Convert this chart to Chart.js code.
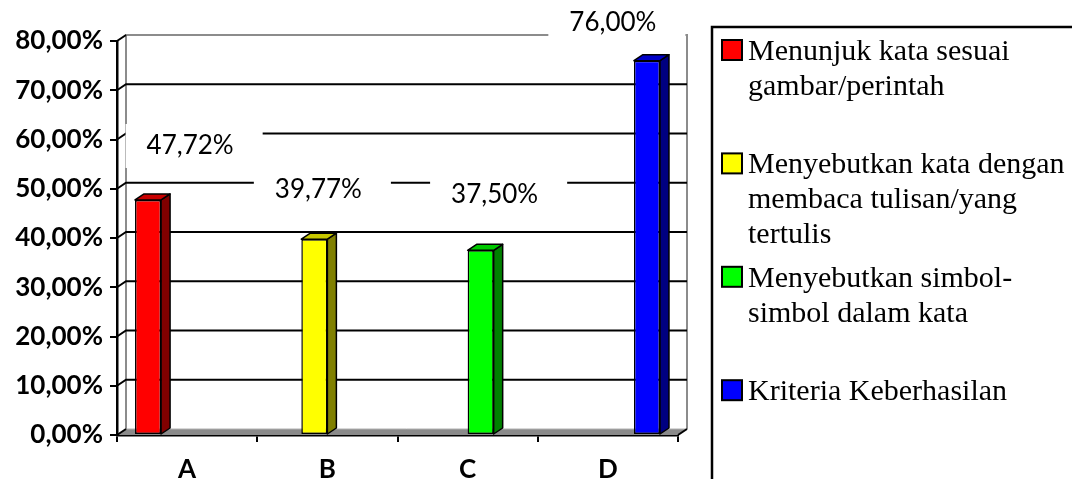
<!DOCTYPE html>
<html>
<head>
<meta charset="utf-8">
<script src="https://cdn.jsdelivr.net/npm/chart.js@4.4.1/dist/chart.umd.min.js"></script>
<style>
  html, body { margin: 0; padding: 0; background: #fff; }
  #wrap { width: 1072px; height: 479px; position: relative; }
</style>
</head>
<body>
<div id="wrap"><canvas id="chart"></canvas></div>
<script>
// data
const categories = ['A', 'B', 'C', 'D'];
const seriesNames = [
  'Menunjuk kata sesuai\ngambar/perintah',
  'Menyebutkan kata dengan\nmembaca tulisan/yang\ntertulis',
  'Menyebutkan simbol-\nsimbol dalam kata',
  'Kriteria Keberhasilan'
];
const percentages = [47.72, 39.77, 37.50, 76.00];
const yTicks = [0, 10, 20, 30, 40, 50, 60, 70, 80];

// styles
const frontColors = ['#FF0000', '#FFFF00', '#00FF00', '#0000FF'];
const sideColors = ['#800000', '#808000', '#008000', '#000080'];
const topColors = ['#C80000', '#C8C800', '#00C800', '#0000C8'];
const DX = 9, DY = -6; // depth of the fake 3D
// where Excel put each value label (offset from category centre / bar top)
const labelShift = [[3, -54], [-9, -50], [27, -56], [5, -38]];

function pct(v) {
  return v.toFixed(2).replace('.', ',') + '%';
}

const datasets = seriesNames.map(function(name, i) {
  return {
    label: name,
    data: categories.map(function(c, j) { return j === i ? percentages[i] : null; }),
    backgroundColor: frontColors[i],
    borderColor: '#000',
    borderWidth: 1.5,
    borderSkipped: false,
    categoryPercentage: 0.743,
    barPercentage: 1.0
  };
});

// back wall, floor and grid lines drawn with the depth offset
const wallPlugin = {
  id: 'wall',
  beforeDatasetsDraw(chart) {
    const ctx = chart.ctx, a = chart.chartArea, y = chart.scales.y;
    const y0 = y.getPixelForValue(0);
    const yTop = y.getPixelForValue(80);
    ctx.save();
    // floor
    ctx.fillStyle = '#8a8a8a';
    ctx.beginPath();
    ctx.moveTo(a.left, y0);
    ctx.lineTo(a.left + DX, y0 + DY);
    ctx.lineTo(a.right + DX, y0 + DY);
    ctx.lineTo(a.right, y0);
    ctx.closePath();
    ctx.fill();
    ctx.strokeStyle = '#b0b0b0';
    ctx.lineWidth = 1;
    ctx.beginPath();
    ctx.moveTo(a.left + DX, y0 + DY);
    ctx.lineTo(a.right + DX, y0 + DY);
    ctx.stroke();
    // wall edges
    ctx.strokeStyle = '#8c8c8c';
    ctx.lineWidth = 2;
    ctx.beginPath();
    ctx.moveTo(a.left + DX, y0 + DY);
    ctx.lineTo(a.left + DX, yTop + DY);
    ctx.lineTo(a.right + DX, yTop + DY);
    ctx.lineTo(a.right + DX, y0 + DY);
    ctx.stroke();
    // grid lines
    ctx.strokeStyle = '#000';
    ctx.lineWidth = 2;
    yTicks.forEach(function(v) {
      const p = y.getPixelForValue(v);
      ctx.beginPath();
      ctx.moveTo(a.left, p);
      ctx.lineTo(a.left + DX, p + DY);
      if (v > 0 && v < 80) ctx.lineTo(a.right + DX, p + DY);
      ctx.stroke();
    });
    ctx.beginPath();
    ctx.moveTo(a.right, y0);
    ctx.lineTo(a.right + DX, y0 + DY);
    ctx.stroke();
    ctx.restore();
  },
  afterDatasetsDraw(chart) {
    const ctx = chart.ctx;
    ctx.save();
    ctx.lineWidth = 1.5;
    ctx.strokeStyle = '#000';
    ctx.lineJoin = 'round';
    chart.data.datasets.forEach(function(ds, i) {
      const meta = chart.getDatasetMeta(i);
      meta.data.forEach(function(bar, j) {
        if (ds.data[j] == null) return;
        const p = bar.getProps(['x', 'y', 'base', 'width'], true);
        const l = p.x - p.width / 2, r = p.x + p.width / 2;
        // side
        ctx.fillStyle = sideColors[i];
        ctx.beginPath();
        ctx.moveTo(r, p.y);
        ctx.lineTo(r + DX, p.y + DY);
        ctx.lineTo(r + DX, p.base + DY);
        ctx.lineTo(r, p.base);
        ctx.closePath();
        ctx.fill();
        ctx.stroke();
        // top
        ctx.fillStyle = topColors[i];
        ctx.beginPath();
        ctx.moveTo(l, p.y);
        ctx.lineTo(l + DX, p.y + DY);
        ctx.lineTo(r + DX, p.y + DY);
        ctx.lineTo(r, p.y);
        ctx.closePath();
        ctx.fill();
        ctx.stroke();
      });
    });

    // value labels on white boxes
    const xs = chart.scales.x, ys = chart.scales.y;
    ctx.font = '26px Lato';
    ctx.textAlign = 'center';
    ctx.textBaseline = 'middle';
    percentages.forEach(function(v, i) {
      const txt = pct(v);
      const w = ctx.measureText(txt).width;
      const cx = xs.getPixelForValue(i) + labelShift[i][0];
      const cy = ys.getPixelForValue(v) + labelShift[i][1];
      ctx.fillStyle = '#fff';
      ctx.fillRect(cx - w / 2 - 21, cy - 22, w + 50, 44);
      ctx.fillStyle = '#000';
      ctx.fillText(txt, cx, cy);
    });
    ctx.restore();
  }
};

// legend box on the right
const sideLegend = {
  id: 'sideLegend',
  afterDraw(chart) {
    const ctx = chart.ctx;
    const left = chart.chartArea.right + 34;
    const top = 27;
    ctx.save();
    ctx.strokeStyle = '#000';
    ctx.lineWidth = 2.5;
    ctx.strokeRect(left, top, 500, 500);
    ctx.font = '30px "Liberation Serif"';
    ctx.textAlign = 'left';
    ctx.textBaseline = 'alphabetic';
    seriesNames.forEach(function(name, i) {
      const base = 60 + i * 113.4;
      ctx.fillStyle = frontColors[i];
      ctx.fillRect(left + 10, base - 20, 20, 20);
      ctx.lineWidth = 2;
      ctx.strokeRect(left + 10, base - 20, 20, 20);
      ctx.fillStyle = '#000';
      name.split('\n').forEach(function(line, k) {
        ctx.fillText(line, left + 36, base + k * 35);
      });
    });
    ctx.restore();
  }
};

const ctx = document.getElementById('chart').getContext('2d');

new Chart(ctx, {
  type: 'bar',
  data: { labels: categories, datasets: datasets },
  options: {
    responsive: true,
    maintainAspectRatio: false,
    animation: false,
    layout: { padding: { top: 41, right: 394, left: 0, bottom: 0 } },
    plugins: {
      legend: { display: false },
      tooltip: { enabled: false }
    },
    scales: {
      x: {
        grid: { offset: true, drawOnChartArea: false, tickLength: 7, color: '#000', lineWidth: 2 },
        border: { color: '#000', width: 2.5 },
        ticks: { color: '#000', padding: 12, font: { family: 'Lato', size: 26, weight: 'bold' } },
        afterFit: function(scale) { scale.height = 44; }
      },
      y: {
        min: 0,
        max: 80,
        grid: { drawOnChartArea: false, tickLength: 7, color: '#000', lineWidth: 2 },
        border: { color: '#000', width: 2.5 },
        ticks: {
          color: '#000',
          padding: 7,
          font: { family: 'Lato', size: 26, weight: 'bold' },
          callback: function(v) { return pct(v); }
        },
        afterBuildTicks: function(scale) {
          scale.ticks = yTicks.map(function(v) { return { value: v }; });
        },
        afterFit: function(scale) { scale.width = 117; }
      }
    }
  },
  plugins: [wallPlugin, sideLegend]
});
</script>
</body>
</html>
